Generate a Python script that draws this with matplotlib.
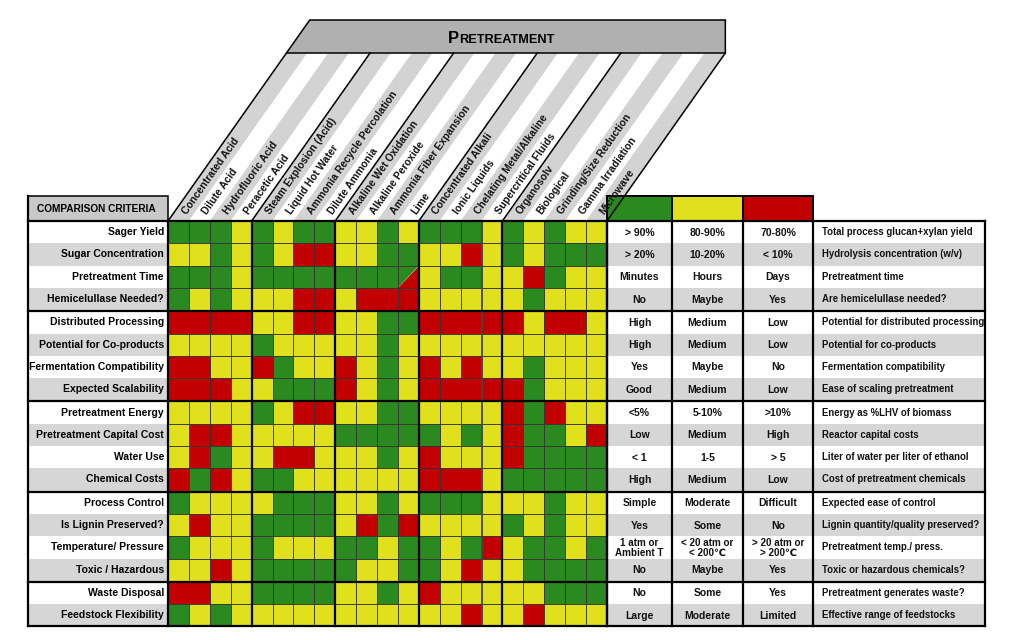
import math
import matplotlib
matplotlib.use("Agg")
import matplotlib.pyplot as plt
from matplotlib.patches import Rectangle, Polygon

plt.rcParams["font.family"] = ["Liberation Sans", "DejaVu Sans"]

# Data
pretreatments = [
    "Concentrated Acid", "Dilute Acid", "Hydrofluoric Acid", "Peracetic Acid",
    "Steam Explosion (Acid)", "Liquid Hot Water", "Ammonia Recycle Percolation", "Dilute Ammonia",
    "Alkaline Wet Oxidation", "Alkaline Peroxide", "Ammonia Fiber Expansion", "Lime",
    "Concentrated Alkali", "Ionic Liquids", "Chelating Metal/Alkaline", "Supercritical Fluids",
    "Organosolv", "Biological", "Grinding/Size Reduction", "Gamma Irradiation", "Microwave",
]
pretreatment_groups = [4, 4, 4, 4, 5]

criteria = [
    "Sager Yield", "Sugar Concentration", "Pretreatment Time", "Hemicelullase Needed?",
    "Distributed Processing", "Potential for Co-products", "Fermentation Compatibility", "Expected Scalability",
    "Pretreatment Energy", "Pretreatment Capital Cost", "Water Use", "Chemical Costs",
    "Process Control", "Is Lignin Preserved?", "Temperature/ Pressure", "Toxic / Hazardous",
    "Waste Disposal", "Feedstock Flexibility",
]
criteria_groups = [4, 4, 4, 4, 2]

# G = good, Y = medium, R = poor, S = split good/poor
ratings = [
    "GGGY GYGG YYGY GGGY GYGYY",
    "YYGY GYRR YYGG YYRY GYGGG",
    "GGGY GGGG GGGS YGGY YRGYY",
    "GYGY YYRR YRRR YYYY YGYYY",
    "RRRR YYRR YYGG RRRR RYRRY",
    "YYYY GYYY YYGY YYYY YYYYY",
    "RRYY RGYY RYGY RYRY YGYYY",
    "RRRY YGGG RYGY RRRR RGYYY",
    "YYYY GYRR YYGG YYYY RGRYY",
    "YRRY YYYY GGGG GYGY RGGYR",
    "YRGY YRRY YYGY RYYY RGGGG",
    "RGRY GGYY YYYY RRRY GGGGG",
    "GYYY YGGG YYGY GGGY YYGYY",
    "YRYY GGGG YRGR YYYY GYGYY",
    "GYYY GYYY GGYG GYGR YGGYG",
    "YYRY GGGG GYYG GYRY YGGGG",
    "RRYY GGGG YYGY RYYY YYGGG",
    "GYGY YYYY YYYY YYRY YRYYY",
]

best_values = [
    "> 90%", "> 20%", "Minutes", "No", "High", "High", "Yes", "Good",
    "<5%", "Low", "< 1", "High", "Simple", "Yes", "1 atm or\nAmbient T", "No", "No", "Large",
]
mid_values = [
    "80-90%", "10-20%", "Hours", "Maybe", "Medium", "Medium", "Maybe", "Medium",
    "5-10%", "Medium", "1-5", "Medium", "Moderate", "Some", "< 20 atm or\n< 200\u2103", "Maybe", "Some", "Moderate",
]
worst_values = [
    "70-80%", "< 10%", "Days", "Yes", "Low", "Low", "No", "Low",
    ">10%", "High", "> 5", "Low", "Difficult", "No", "> 20 atm or\n> 200\u2103", "Yes", "Yes", "Limited",
]
descriptions = [
    "Total process glucan+xylan yield", "Hydrolysis concentration (w/v)", "Pretreatment time",
    "Are hemicelullase needed?", "Potential for distributed processing", "Potential for co-products",
    "Fermentation compatibility", "Ease of scaling pretreatment", "Energy as %LHV of biomass",
    "Reactor capital costs", "Liter of water per liter of ethanol", "Cost of pretreatment chemicals",
    "Expected ease of control", "Lignin quantity/quality preserved?", "Pretreatment temp./ press.",
    "Toxic or hazardous chemicals?", "Pretreatment generates waste?", "Effective range of feedstocks",
]

# Style / layout
COLORS = {"G": "#2a8a20", "Y": "#e0e01c", "R": "#c20000"}
ROW_GRAY = "#d6d6d6"
STRIPE_GRAY = "#d3d3d3"
BAND_GRAY = "#b0b0b0"

LABEL_X0 = 28
GRID_X0 = 168
COL_W = 20.9
GRID_Y0 = 221
ROW_H = 22.3
ROW_GAP = 1.0
HEAD_Y0 = 196
STRIPE_TOP = 53
BAND_TOP = 20
SLANT = 0.705  # dx per dy of the header stripes
VAL_X = [607, 672, 743, 813]
DESC_X1 = 985
THICK = 1.6
THIN = 0.6
FS = 7.5

fig = plt.figure(figsize=(10.14, 6.40), dpi=100)
ax = fig.add_axes([0, 0, 1, 1])
ax.set_xlim(0, 1014)
ax.set_ylim(640, 0)
ax.axis("off")

# row / column positions
row_top = []
group_tops = []
y = GRID_Y0
for g in criteria_groups:
    group_tops.append(y)
    for _ in range(g):
        row_top.append(y)
        y += ROW_H
    y += ROW_GAP
grid_bottom = y - ROW_GAP

col_left = [GRID_X0 + i * COL_W for i in range(len(pretreatments))]
grid_right = GRID_X0 + len(pretreatments) * COL_W
col_bounds = [GRID_X0]
n = 0
for g in pretreatment_groups:
    n += g
    col_bounds.append(GRID_X0 + n * COL_W)

# header stripes with column names
dx = SLANT * (GRID_Y0 - STRIPE_TOP)
for i, name in enumerate(pretreatments):
    x0 = col_left[i]
    x1 = x0 + COL_W
    ax.add_patch(Polygon([(x0, GRID_Y0), (x1, GRID_Y0), (x1 + dx, STRIPE_TOP), (x0 + dx, STRIPE_TOP)],
                         closed=True, facecolor=STRIPE_GRAY if i % 2 == 0 else "white",
                         edgecolor="none"))
    ya = GRID_Y0 - 8
    xa = x0 + COL_W / 2 + SLANT * (GRID_Y0 - ya)
    ax.text(xa, ya, name, rotation=math.degrees(math.atan(1 / SLANT)), rotation_mode="anchor",
            ha="left", va="center", fontsize=7.4, fontweight="bold", color="#111111")
for b in col_bounds:
    ax.plot([b, b + dx], [GRID_Y0, STRIPE_TOP], color="black", lw=1.1)

# header band
band_dx = SLANT * (STRIPE_TOP - BAND_TOP)
ax.add_patch(Polygon([(GRID_X0 + dx, STRIPE_TOP), (GRID_X0 + dx + band_dx, BAND_TOP),
                      (grid_right + dx, BAND_TOP), (grid_right + dx, STRIPE_TOP)],
                     closed=True, facecolor=BAND_GRAY, edgecolor="black", lw=1.1))
mid_x = 459
ax.text(mid_x, 43, "P", ha="right", va="baseline", fontsize=12, fontweight="bold")
ax.text(mid_x, 43, "RETREATMENT", ha="left", va="baseline", fontsize=9.2, fontweight="bold")

# comparison criteria header
ax.add_patch(Rectangle((LABEL_X0, HEAD_Y0), GRID_X0 - LABEL_X0, GRID_Y0 - HEAD_Y0,
                       facecolor="#c8c8c8", edgecolor="black", lw=1.1))
ax.text(LABEL_X0 + 9, (HEAD_Y0 + GRID_Y0) / 2, "COMPARISON CRITERIA", ha="left", va="center",
        fontsize=7.3, fontweight="bold")

# legend swatches
for k, c in enumerate("GYR"):
    ax.add_patch(Rectangle((VAL_X[k], HEAD_Y0), VAL_X[k + 1] - VAL_X[k], GRID_Y0 - HEAD_Y0,
                           facecolor=COLORS[c], edgecolor="black", lw=1.4))

# rows
for r, crit in enumerate(criteria):
    yt = row_top[r]
    yc = yt + ROW_H / 2
    bg = ROW_GRAY if r % 2 == 1 else "white"
    ax.add_patch(Rectangle((LABEL_X0, yt), GRID_X0 - LABEL_X0, ROW_H, facecolor=bg, edgecolor="none"))
    ax.text(GRID_X0 - 4, yc, crit, ha="right", va="center", fontsize=FS, fontweight="bold")
    ax.add_patch(Rectangle((VAL_X[0], yt), DESC_X1 - VAL_X[0], ROW_H, facecolor=bg, edgecolor="none"))

    cells = ratings[r].replace(" ", "")
    for i, c in enumerate(cells):
        x0 = col_left[i]
        if c == "S":
            ax.add_patch(Polygon([(x0, yt), (x0 + COL_W, yt), (x0, yt + ROW_H)], closed=True,
                                 facecolor=COLORS["G"], edgecolor="none"))
            ax.add_patch(Polygon([(x0 + COL_W, yt), (x0 + COL_W, yt + ROW_H), (x0, yt + ROW_H)],
                                 closed=True, facecolor=COLORS["R"], edgecolor="none"))
            ax.add_patch(Rectangle((x0, yt), COL_W, ROW_H, facecolor="none", edgecolor="#333333", lw=THIN))
        else:
            ax.add_patch(Rectangle((x0, yt), COL_W, ROW_H, facecolor=COLORS[c],
                                   edgecolor="#333333", lw=THIN))

    two_line = "\n" in best_values[r]
    fs = 7.1 if two_line else FS
    for k, txt in enumerate([best_values[r], mid_values[r], worst_values[r]]):
        ax.text((VAL_X[k] + VAL_X[k + 1]) / 2, yc + 0.5, txt, ha="center", va="center",
                fontsize=fs, fontweight="bold", linespacing=0.92, color="#111111")
    ax.text(VAL_X[3] + 9, yc, descriptions[r], ha="left", va="center", fontsize=6.9,
            fontweight="bold", color="#111111")

# group separators
for gt in group_tops:
    ax.plot([LABEL_X0, DESC_X1], [gt, gt], color="black", lw=THICK)
ax.plot([LABEL_X0, DESC_X1], [grid_bottom, grid_bottom], color="black", lw=THICK)
for b in col_bounds:
    ax.plot([b, b], [GRID_Y0, grid_bottom], color="black", lw=THICK)
for xv in VAL_X + [DESC_X1]:
    ax.plot([xv, xv], [GRID_Y0, grid_bottom], color="black", lw=THICK)
ax.plot([LABEL_X0, LABEL_X0], [HEAD_Y0, grid_bottom], color="black", lw=THICK)

fig.savefig("out.png", dpi=100, facecolor="white")
